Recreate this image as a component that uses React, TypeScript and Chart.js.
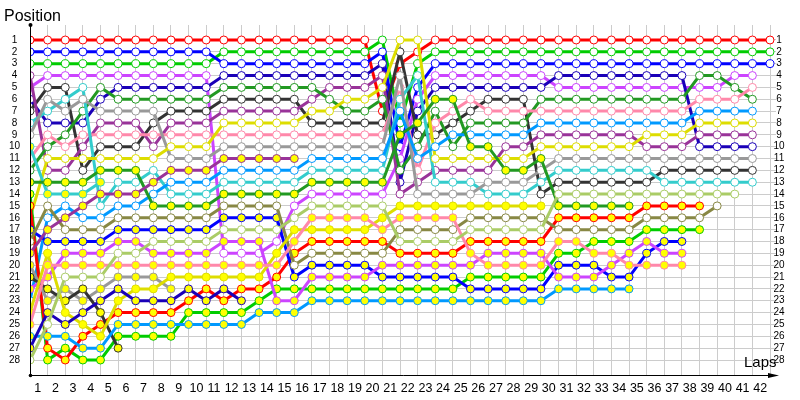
import React, { useEffect, useRef } from 'react';
import { Chart, registerables } from 'chart.js';
Chart.register(...registerables);

// ---- data (positions per lap, index 0 = grid / lap 0) ----
const lapNumbers = [0,1,2,3,4,5,6,7,8,9,10,11,12,13,14,15,16,17,18,19,20,21,22,23,24,25,26,27,28,29,30,31,32,33,34,35,36,37,38,39,40,41,42];
const lapTickLabels = ['1','2','3','4','5','6','7','8','9','10','11','12','13','14','15','16','17','18','19','20','21','22','23','24','25','26','27','28','29','30','31','32','33','34','35','36','37','38','39','40','41','42'];
const positionTickLabels = ['1','2','3','4','5','6','7','8','9','10','11','12','13','14','15','16','17','18','19','20','21','22','23','24','25','26','27','28'];

const redW = [1,1,1,1,1,1,1,1,1,1, 1,1,1,1,1,1,1,1,1,1, 7,3,2,1,1,1,1,1,1,1, 1,1,1,1,1,1,1,1,1,1, 1,1,1];
const blueW = [2,2,2,2,2,2,2,2,2,2, 2,3,3,3,3,3,3,3,3,3, 2,10,5,3,3,3,3,3,3,3, 3,3,3,3,3,3,3,3,3,3, 3,3,3];
const greenW = [3,3,3,3,3,3,3,3,3,3, 3,2,2,2,2,2,2,2,2,2, 1,8,3,2,2,2,2,2,2,2, 2,2,2,2,2,2,2,2,2,2, 2,2,2];
const purpleW = [4,12,12,10,8,8,8,10,8,8, 8,7,7,7,7,7,6,5,5,5, 4,14,13,12,12,12,12,10,10,9, 9,9,9,9,9,10,10,10,9,9, 9,9];
const magentaW = [5,4,4,4,4,4,4,4,4,4, 4,19,19,19,18,15,14,14,14,14, 14,11,6,4,4,4,4,4,4,4, 5,5,5,5,5,5,5,5,5,5, 4,4];
const darkblueW = [6,8,8,8,6,5,5,5,5,5, 5,4,4,4,4,4,4,4,4,4, 3,13,7,5,5,5,5,5,5,5, 4,4,4,4,4,4,4,4,10,10, 10,10];
const blackW = [7,5,5,12,10,10,10,8,7,7, 7,6,6,6,6,6,8,8,8,8, 8,2,9,9,8,7,6,6,6,14, 13,13,13,13,13,13,12,12,12,12, 12,12];
const cyanW = [8,7,6,5,15,13,13,12,14,14, 14,13,13,13,13,13,12,12,12,12, 12,6,4,13,13,13,14,14,14,13, 12,12,12,12,12,12,13,13,13,13, 13,13];
const grayW = [9,6,7,6,7,7,7,7,11,11, 11,10,10,10,10,10,10,10,10,10, 10,4,14,14,14,14,13,13,13,12, 11,11,11,11,11,11,11,11,11,11, 11,11];
const cyanY = [10,14,14,14,13];
const pinkW = [11,9,10,9,9,9,9,9,9,9, 9,9,9,9,9,9,9,9,9,9, 9,5,12,8,7,6,7,7,7,7, 7,7,7,7,7,7,7,7,6,6, 6,5];
const dkgreenW = [12,10,9,7,5,6,6,6,6,6, 6,5,5,5,5,5,5,6,7,7, 6,12,10,7,10,8,8,8,8,6, 6,6,6,6,6,6,6,6,4,4, 5,6];
const dkgreenY = [13,13,13,13,12,12,12,15,15,15, 15,14,14,14,14,14,13,13,13,13, 13,9,8,6,6,10,10,12,12,11, 15,15,15,15,15];
const greenY = [14,28,27,28,28,26,26,26,26,24, 24,24,24,23,22,22,22,22,22,22, 22,22,22,22,22,21,21,21,21,21, 19,19,18,18,18,17,17,17,17];
const redY = [15,27,28,26,25,24,24,24,24,23, 22,23,22,22,21,19,18,18,18,18, 18,19,19,19,19,18,18,18,18,18, 16,16,16,16,16,15,15,15,15];
const yellowW = [16,11,11,11,11,11,11,11,10,10, 10,8,8,8,8,8,7,7,6,6, 5,1,1,11,11,11,11,11,11,10, 10,10,10,10,10,9,9,9,8,8, 8,8];
const blueY = [17,18,18,18,18,17,17,17,17,17, 17,16,16,16,16,21,20,20,20,20, 21,21,21,21,21,22,22,22,22,22, 20,20,20,21,21,19,18,18];
const oliveW = [18,15,17,17,17,16,16,16,16,16, 16,15,15,15,15,20,19,19,19,19, 19,17,17,17,17,16,16,16,16,16, 17,17,17,17,17,16,16,16,16,15];
const purpleY = [19,17,16,15,14,14,14,13,12,12, 12,11,11,11,11,11];
const grayY = [20,23,22,23,22,21,21,21,22];
const blackY = [21,22,23,22,24,27];
const magentaY = [22,21,19,19,19,18,18,19,19,19, 19,18,18,18,23,23,21,21,21,21, 20,20,20,20,20,20,19,19,19,19, 21,21,21,20,19,18,19,19];
const lightblueW = [23,16,15,16,16,15,15,14,13,13, 13,12,12,12,12,12,11,11,11,11, 11,7,11,10,9,9,9,9,9,8, 8,8,8,8,8,8,8,8,7,7, 7,7];
const yellowY = [24,19,24,25,26,23,22,22,21,21, 21,21,21,21,19,17,17,17,17,17, 16,15,15,15,15,15,15,15,15,15];
const pinkY = [25,20,20,20,20,20,20,20,20,20, 20,20,20,20,20,18,16,16,16,16, 17,16,16,16,16,19,20,20,20,20, 18,18,19,19,20,20,20,20];
const lightblueY = [26,26,26,27,27,25,25,25,25,25, 25,25,25,24,24,24,23,23,23,23, 23,23,23,23,23,23,23,23,23,23, 22,22,22,22,22];
const darkblueY = [27,24,25,24,23,22,23,23,23,22, 23,22,23];
const lightgreenW = [28,25,21,21,21,19,19,18,18,18, 18,17,17,17,17,16,15,15,15,15, 15,18,18,18,18,17,17,17,17,17, 14,14,14,14,14,14,14,14,14,14, 14];

// ---- styles ----
const WHITE = '#ffffff';
const YEL = '#ffff00';
const drivers = [
  { name: 'lightgreenW', data: lightgreenW, color: '#aacc66', fill: WHITE },
  { name: 'darkblueY', data: darkblueY, color: '#1a00b8', fill: YEL },
  { name: 'lightblueY', data: lightblueY, color: '#0099ff', fill: YEL },
  { name: 'pinkY', data: pinkY, color: '#ff88aa', fill: YEL },
  { name: 'yellowY', data: yellowY, color: '#dddd00', fill: YEL },
  { name: 'magentaY', data: magentaY, color: '#cc44ff', fill: YEL },
  { name: 'blackY', data: blackY, color: '#333333', fill: YEL },
  { name: 'grayY', data: grayY, color: '#999999', fill: YEL },
  { name: 'purpleY', data: purpleY, color: '#993399', fill: YEL },
  { name: 'oliveW', data: oliveW, color: '#888844', fill: WHITE },
  { name: 'blueY', data: blueY, color: '#0000ff', fill: YEL },
  { name: 'redY', data: redY, color: '#ff0000', fill: YEL },
  { name: 'greenY', data: greenY, color: '#00cc00', fill: YEL },
  { name: 'dkgreenY', data: dkgreenY, color: '#229922', fill: YEL },
  { name: 'cyanY', data: cyanY, color: '#33cccc', fill: YEL },
  { name: 'lightblueW', data: lightblueW, color: '#0099ff', fill: WHITE },
  { name: 'yellowW', data: yellowW, color: '#dddd00', fill: WHITE },
  { name: 'grayW', data: grayW, color: '#999999', fill: WHITE },
  { name: 'cyanW', data: cyanW, color: '#33cccc', fill: WHITE },
  { name: 'pinkW', data: pinkW, color: '#ff88aa', fill: WHITE },
  { name: 'dkgreenW', data: dkgreenW, color: '#229922', fill: WHITE },
  { name: 'purpleW', data: purpleW, color: '#993399', fill: WHITE },
  { name: 'blackW', data: blackW, color: '#333333', fill: WHITE },
  { name: 'darkblueW', data: darkblueW, color: '#1a00b8', fill: WHITE },
  { name: 'magentaW', data: magentaW, color: '#cc44ff', fill: WHITE },
  { name: 'blueW', data: blueW, color: '#0000ff', fill: WHITE },
  { name: 'greenW', data: greenW, color: '#00cc00', fill: WHITE },
  { name: 'redW', data: redW, color: '#ff0000', fill: WHITE },
];

const FONT = '"Liberation Sans", Arial, sans-serif';

const decorPlugin = {
  id: 'decor',
  afterDraw(chart: any) {
    const { ctx, scales } = chart;
    const xs = scales.x;
    const ys = scales.y;
    const left = 30.5;
    const axisY = 375.5;
    ctx.save();
    ctx.strokeStyle = '#000000';
    ctx.fillStyle = '#000000';
    ctx.lineWidth = 1;
    ctx.beginPath();
    ctx.moveTo(left, 25);
    ctx.lineTo(left, axisY);
    ctx.lineTo(776, axisY);
    ctx.stroke();
    ctx.beginPath();
    ctx.arc(left, 25, 2, 0, Math.PI * 2);
    ctx.fill();
    ctx.beginPath();
    ctx.arc(left, axisY, 1.8, 0, Math.PI * 2);
    ctx.fill();
    ctx.beginPath();
    ctx.moveTo(768, axisY - 2.5);
    ctx.lineTo(779, axisY);
    ctx.lineTo(768, axisY + 2.5);
    ctx.closePath();
    ctx.fill();

    ctx.font = '10px ' + FONT;
    ctx.textAlign = 'center';
    ctx.textBaseline = 'middle';
    positionTickLabels.forEach((lab, i) => {
      const py = ys.getPixelForValue(i + 1);
      ctx.fillText(lab, 14.5, py);
      ctx.fillText(lab, 779, py);
    });
    ctx.font = '12.5px ' + FONT;
    lapTickLabels.forEach((lab, i) => {
      const px = xs.getPixelForValue(i + 0.5) - 1;
      ctx.fillText(lab, px, 389);
    });
    ctx.textAlign = 'left';
    ctx.textBaseline = 'alphabetic';
    ctx.font = '16px ' + FONT;
    ctx.fillText('Position', 4, 21);
    ctx.font = '15px ' + FONT;
    ctx.fillText('Laps', 744, 367);
    ctx.restore();
  },
};

export default function App() {
  const ref = useRef<HTMLCanvasElement | null>(null);
  useEffect(() => {
    if (!ref.current) return;
    const datasets = drivers.map((d) => ({
      label: d.name,
      data: d.data.map((p, i) => ({ x: lapNumbers[i], y: p })),
      borderColor: d.color,
      backgroundColor: d.fill,
      pointBackgroundColor: d.fill,
      pointBorderColor: d.color,
      pointBorderWidth: 1,
      pointRadius: 4,
      borderWidth: 3,
      tension: 0,
      showLine: true,
      fill: false,
    }));
    const chart = new Chart(ref.current, {
      type: 'scatter',
      data: { datasets },
      options: {
        animation: false,
        responsive: false,
        maintainAspectRatio: false,
        devicePixelRatio: 1,
        layout: { padding: { left: 30, right: 24, top: 25, bottom: 25 } },
        plugins: { legend: { display: false }, tooltip: { enabled: false } },
        scales: {
          x: {
            type: 'linear',
            min: 0,
            max: 42.34,
            afterBuildTicks: (s: any) => { s.ticks = lapNumbers.map((v) => ({ value: v })); },
            ticks: { display: false },
            grid: { color: '#cccccc', lineWidth: 1, drawTicks: false },
            border: { display: false },
          },
          y: {
            type: 'linear',
            reverse: true,
            min: -0.2656,
            max: 29.2656,
            afterBuildTicks: (s: any) => { s.ticks = positionTickLabels.map((_, i) => ({ value: i + 1 })); },
            ticks: { display: false },
            grid: { color: '#cccccc', lineWidth: 1, drawTicks: false },
            border: { display: false },
          },
        },
      },
      plugins: [decorPlugin],
    });
    return () => chart.destroy();
  }, []);
  return (
    <div style={{ position: 'fixed', left: 0, top: 0, width: 800, height: 400, background: '#ffffff' }}>
      <canvas ref={ref} width={800} height={400} />
    </div>
  );
}
